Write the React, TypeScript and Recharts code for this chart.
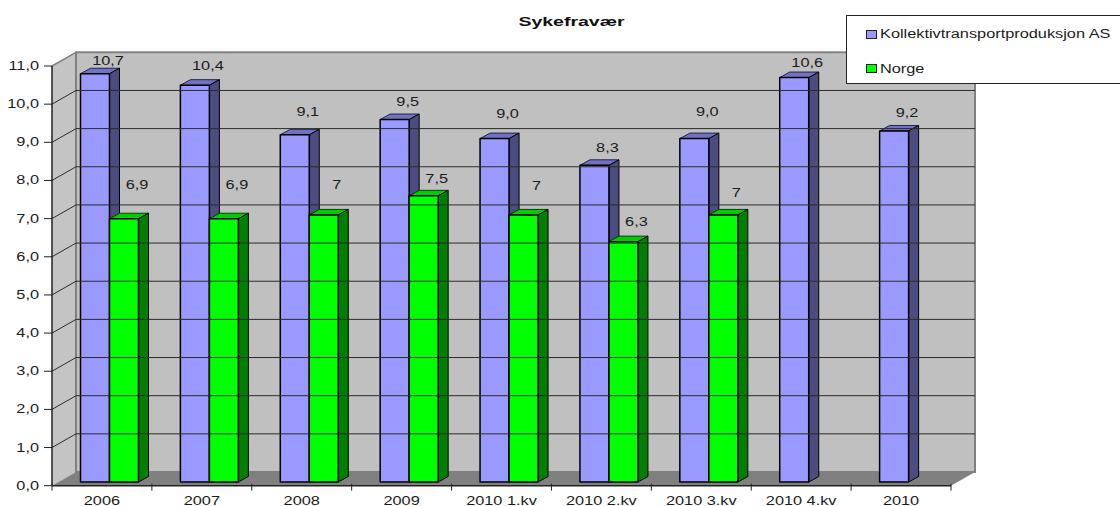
import React from 'react';
import { BarChart, Bar, XAxis, YAxis, Legend, LabelList, ReferenceArea, ReferenceLine } from 'recharts';

const categories = ['2006', '2007', '2008', '2009', '2010 1.kv', '2010 2.kv', '2010 3.kv', '2010 4.kv', '2010'];
const kollektiv = [10.7, 10.4, 9.1, 9.5, 9.0, 8.3, 9.0, 10.6, 9.2];
const norge = [6.9, 6.9, 7, 7.5, 7, 6.3, 7, null, null];
const yTicks = [0, 1, 2, 3, 4, 5, 6, 7, 8, 9, 10, 11];

// the data labels were hand placed in the original, so each has its own lift above the bar
const kollektivLift = [16.5, 23, 26.5, 21, 28, 21, 30, 18, 22];
const norgeLift = [37.5, 37.5, 33.6, 20.6, 32.6, 23.4, 25.6, 0, 0];

const data = categories.map((name, i) => ({ name, kollektiv: kollektiv[i], norge: norge[i] }));

const FONT = '"Liberation Sans", Arial, sans-serif';
const DX = 24; // back wall offset
const DY = 13.7;
const BAR_DX = 7.5; // bars stand a bit inside the floor
const BAR_DY = -3.7;
const BAR_DEPTH = 10;
const BAR_RISE = 5.5;
const BAND = 899 / categories.length;
const STRETCH = 1.36;

const comma = (v: number, fixed: boolean) => (fixed ? v.toFixed(1) : String(v)).replace('.', ',');

const Stretched = ({ x, y, anchor = 'middle', size = 12, bold = false, children }: any) => (
  <text
    transform={`translate(${x} ${y}) scale(${STRETCH} 1)`}
    textAnchor={anchor}
    fontFamily={FONT}
    fontSize={size}
    fontWeight={bold ? 'bold' : 'normal'}
    fill="#1c1c1c"
  >
    {children}
  </text>
);

const Walls = ({ x, y, width, height }: any) => {
  const b = y + height;
  return (
    <g>
      <polygon points={`${x},${y} ${x + DX},${y - DY} ${x + DX},${b - DY} ${x},${b}`} fill="#c4c4c4" />
      <rect x={x + DX} y={y - DY} width={width} height={height} fill="#c0c0c0" stroke="#808080" strokeWidth={2} />
      <polygon points={`${x},${b} ${x + DX},${b - DY} ${x + DX + width},${b - DY} ${x + width},${b}`} fill="#808080" />
      <line x1={x} y1={y} x2={x + DX} y2={y - DY} stroke="#808080" strokeWidth={1.5} />
    </g>
  );
};

const GridLine = ({ x1, y1, x2, y2 }: any) => (
  <g stroke="#2b2b2b" strokeWidth={1}>
    <line x1={x1} y1={y1} x2={x1 + DX} y2={y1 - DY} />
    <line x1={x1 + DX} y1={y1 - DY} x2={x2 + DX} y2={y2 - DY} />
  </g>
);

const Bar3D = ({ x, y, width, height, fill, topFill, sideFill, topStroke }: any) => {
  if (!height) return null;
  const l = x + BAR_DX;
  const t = y + BAR_DY;
  const r = l + width;
  const b = t + height;
  return (
    <g stroke="#000" strokeLinejoin="round">
      <polygon points={`${l},${t} ${l + BAR_DEPTH},${t - BAR_RISE} ${r + BAR_DEPTH},${t - BAR_RISE} ${r},${t}`} fill={topFill} stroke={topStroke} strokeWidth={1} />
      <polygon points={`${r},${t} ${r + BAR_DEPTH},${t - BAR_RISE} ${r + BAR_DEPTH},${b - BAR_RISE} ${r},${b}`} fill={sideFill} strokeWidth={1} />
      <rect x={l} y={t} width={width} height={height} fill={fill} strokeWidth={1.5} />
    </g>
  );
};

const BlueBar = (p: any) => <Bar3D {...p} topFill="#7272c4" sideFill="#4c4c80" topStroke="#22224a" />;
const GreenBar = (p: any) => <Bar3D {...p} topFill="#00cc00" sideFill="#008000" topStroke="#004400" />;

const XTick = ({ x, y, payload, index }: any) => (
  <g>
    <line x1={x - BAND / 2} y1={y - 8} x2={x - BAND / 2} y2={y - 1} stroke="#222" strokeWidth={1} />
    {index === categories.length - 1 && <line x1={x + BAND / 2} y1={y - 8} x2={x + BAND / 2} y2={y - 1} stroke="#222" strokeWidth={1} />}
    <Stretched x={x} y={y + 13}>{payload.value}</Stretched>
  </g>
);

const YTick = ({ x, y, payload }: any) => (
  <Stretched x={x - 3} y={y + 4} anchor="end">{comma(payload.value, true)}</Stretched>
);

const makeLabel = (lift: number[], fixed: boolean) => ({ x, y, width, value, index }: any) => {
  if (value == null) return null;
  return (
    <Stretched x={x + width / 2 + 20.5} y={y - lift[index] + 4}>{comma(value, fixed)}</Stretched>
  );
};

const LegendBox = ({ payload }: any) => (
  <div style={{ width: 280, height: 69, background: '#fff', border: '1px solid #222', boxSizing: 'border-box', position: 'relative' }}>
    {(payload || []).map((e: any, i: number) => (
      <div key={e.value} style={{ position: 'absolute', left: 19, top: 11 + i * 34.5, height: 14, display: 'flex', alignItems: 'center' }}>
        <span style={{ width: 9, height: 7, background: e.color, border: '1px solid #222', marginRight: 3, flex: 'none' }} />
        <span style={{ fontFamily: FONT, fontSize: 12, color: '#1c1c1c', transform: `scaleX(${STRETCH})`, transformOrigin: 'left center', whiteSpace: 'nowrap' }}>{e.value}</span>
      </div>
    ))}
  </div>
);

export default function App() {
  return (
    <div style={{ position: 'absolute', left: 0, top: 0, width: 1120, height: 506, overflow: 'hidden', background: '#fff' }}>
      <BarChart
        width={1120}
        height={506}
        data={data}
        margin={{ top: 66, right: 169, left: 0, bottom: 0 }}
        barSize={29}
        barGap={0}
      >
        <XAxis
          dataKey="name"
          height={20.3}
          interval={0}
          axisLine={{ stroke: '#222', strokeWidth: 1.5 }}
          tickLine={false}
          tick={<XTick />}
          tickMargin={0}
        />
        <YAxis
          width={52}
          domain={[0, 11]}
          ticks={yTicks}
          interval={0}
          axisLine={{ stroke: '#222', strokeWidth: 1.5 }}
          tickLine={{ stroke: '#222' }}
          tickSize={8}
          tick={<YTick />}
        />
        <ReferenceArea y1={0} y2={11} shape={<Walls />} ifOverflow="visible" />
        {yTicks.slice(1, -1).map((t) => (
          <ReferenceLine key={t} y={t} shape={<GridLine />} ifOverflow="visible" />
        ))}
        <Bar dataKey="kollektiv" name="Kollektivtransportproduksjon AS" fill="#9999ff" shape={<BlueBar />} isAnimationActive={false}>
          <LabelList dataKey="kollektiv" content={makeLabel(kollektivLift, true)} />
        </Bar>
        <Bar dataKey="norge" name="Norge" fill="#00ff00" shape={<GreenBar />} isAnimationActive={false}>
          <LabelList dataKey="norge" content={makeLabel(norgeLift, false)} />
        </Bar>
        <Legend
          layout="vertical"
          align="center"
          verticalAlign="middle"
          content={<LegendBox />}
          wrapperStyle={{ position: 'absolute', left: 846, top: 15, width: 280, height: 69 }}
        />
        <text transform="translate(571.5 26) scale(1.5 1)" textAnchor="middle" fontFamily={FONT} fontSize={13} fontWeight="bold" fill="#111">Sykefravær</text>
      </BarChart>
    </div>
  );
}
